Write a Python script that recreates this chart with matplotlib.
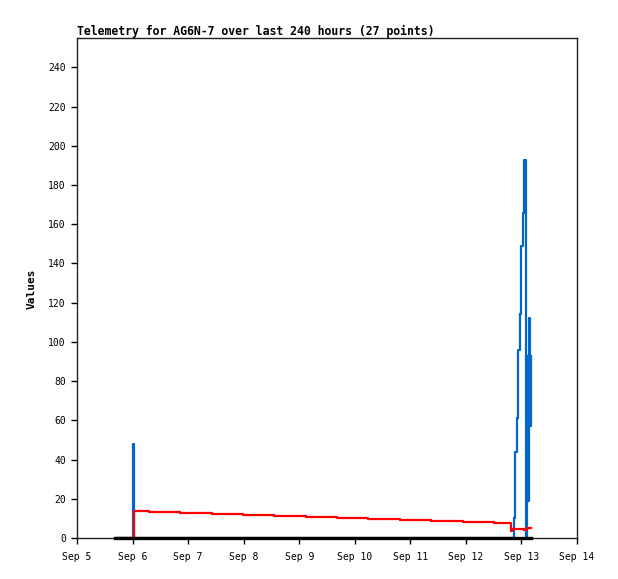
import matplotlib
matplotlib.use("Agg")
import matplotlib.pyplot as plt
import pandas as pd

# ---- data (hours after Sep 5 00:00) ----
blue_hours = [17.3, 24.2, 24.5, 188.6, 189.0, 189.4, 189.9, 190.3, 190.7, 191.2,
              191.6, 192.0, 192.5, 192.9, 193.3, 194.0, 194.3, 194.8, 195.2, 195.6, 196.0]
blue_values = [0, 48, 0, 10, 26, 44, 61, 78, 96, 114,
               131, 149, 166, 183, 193, 0, 93, 19, 112, 57, 93]

red_hours = [17.3, 24.6, 31.1, 44.5, 58.3, 71.7, 85.1, 98.9, 112.3, 125.7, 139.5,
             152.9, 166.7, 180.1, 187.5, 188.1, 190.5, 193.1, 194.2, 196.1]
red_values = [0, 14.0, 13.5, 12.9, 12.4, 11.9, 11.4, 10.9, 10.4, 9.9, 9.4,
              8.9, 8.4, 7.9, 3.5, 4.8, 4.5, 4.2, 5.2, 5.2]

black_hours = [16.4, 196.1]
black_values = [0, 0]

x_tick_labels = ["Sep 5", "Sep 6", "Sep 7", "Sep 8", "Sep 9", "Sep 10",
                 "Sep 11", "Sep 12", "Sep 13", "Sep 14"]
y_ticks = [0, 20, 40, 60, 80, 100, 120, 140, 160, 180, 200, 220, 240]

title = "Telemetry for AG6N-7 over last 240 hours (27 points)"
ylabel = "Values"

base = pd.Timestamp("2023-09-05 00:00")
to_t = lambda hs: [base + pd.Timedelta(hours=h) for h in hs]

fig = plt.figure(figsize=(6.18, 5.79), dpi=100)
ax = fig.add_axes([77/618, 41/579, 500/618, 500/579])

ax.step(to_t(blue_hours), blue_values, where="post", color="#0066cc", lw=1.6)
ax.step(to_t(red_hours), red_values, where="post", color="#ff0000", lw=1.6)
ax.step(to_t(black_hours), black_values, where="post", color="#000000", lw=2.4,
        clip_on=False, zorder=5)

ax.set_xlim(base, base + pd.Timedelta(days=9))
ax.set_ylim(0, 255)
xt = [base + pd.Timedelta(days=i) for i in range(len(x_tick_labels))]
ax.set_xticks(xt)
ax.set_xticklabels(x_tick_labels, family="DejaVu Sans Mono", fontsize=7)
ax.set_yticks(y_ticks)
ax.set_yticklabels([str(v) for v in y_ticks], family="DejaVu Sans Mono", fontsize=7)
ax.tick_params(direction="out", length=4, width=1, color="black", top=False, right=False)
ax.tick_params(axis="x", pad=6)
ax.tick_params(axis="y", pad=4)
for s in ax.spines.values():
    s.set_color("#222222")
    s.set_linewidth(1)

fig.text(77/618, 1 - 31/579, title, family="DejaVu Sans Mono", fontweight="bold",
         fontsize=8.3, ha="left", va="center")
fig.text(32/618, 1 - 289/579, ylabel, family="DejaVu Sans Mono", fontweight="bold",
         fontsize=8, rotation=90, ha="center", va="center")

fig.savefig("out.png", dpi=100)
